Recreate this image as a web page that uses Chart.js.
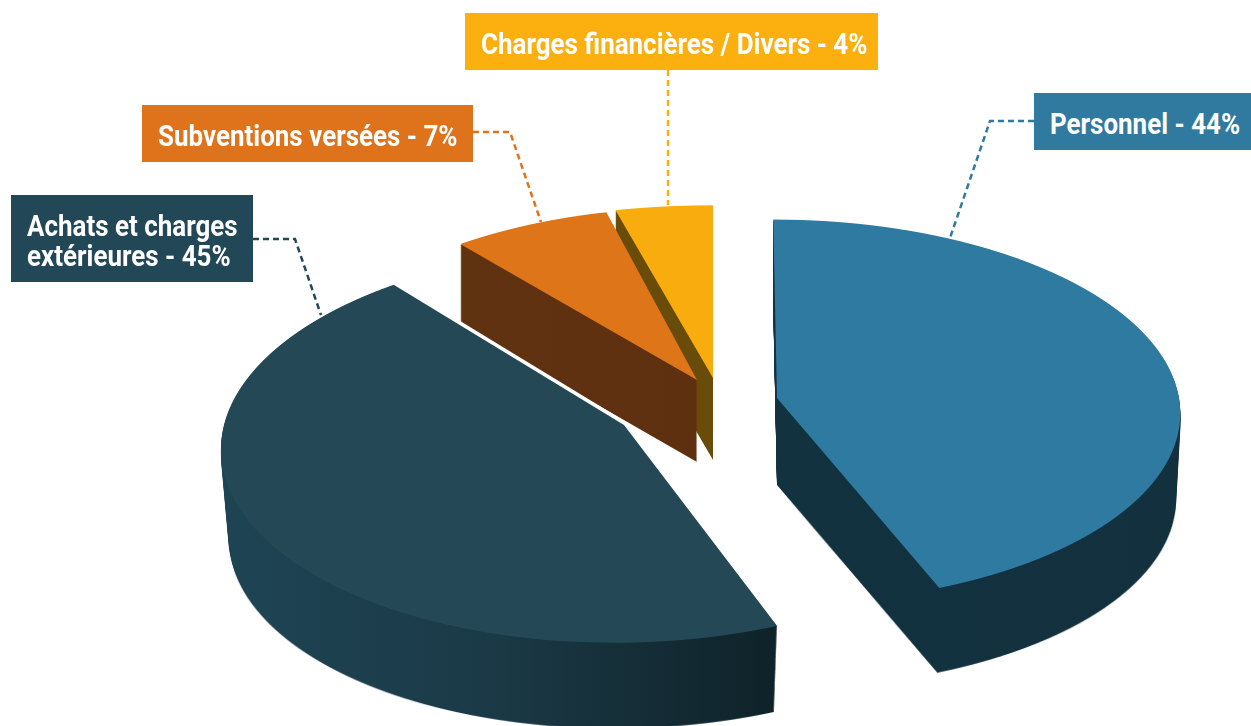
<!DOCTYPE html>
<html lang="fr">
<head>
<meta charset="utf-8">
<title>Répartition des dépenses</title>
<script src="https://cdn.jsdelivr.net/npm/chart.js@4/dist/chart.umd.min.js"></script>
<style>
  html, body { margin: 0; padding: 0; background: #fff; overflow: hidden; }
  #wrap { position: relative; width: 1251px; height: 726px; }
  #pie { position: absolute; left: 0; top: 0; }
  .tag {
    position: absolute; box-sizing: border-box; display: flex; align-items: center;
    padding: 5px 0 0 16px; color: #fff;
    font: bold 29px/30px Roboto, "Liberation Sans", sans-serif;
  }
  .tag span { display: block; transform: scaleX(0.895); transform-origin: left center; flex: none; }
</style>
</head>
<body>
<div id="wrap">
  <canvas id="pie" width="1251" height="726"></canvas>
</div>
<script>
const categories = ['Personnel', 'Achats et charges extérieures', 'Subventions versées', 'Charges financières / Divers'];
const shares = [44, 45, 7, 4];

const topColors = ['#2e7aa0', '#244856', '#df7519', '#f9ac0d'];
const tagColors = ['#2f7a9e', '#224757', '#de731c', '#fbb00f'];
// side wall colours, as [x, colour] stops
const sideStops = [
    [[778, '#12323f'], [1180, '#13303e']],
    [[225, '#1e4454'], [480, '#1b3a47'], [778, '#0f2229']],
    [[462, '#5f3210'], [697, '#5f3010']],
    [[615, '#6a4c0a'], [713, '#6a4c0a']]
];

// how each slice is projected: apex, radii, skew, perspective, wall height
const views = [
    { ax: 777, ay: 398, rx: 402, skew: 4, ry: 191, q: 0.07, depth: 87, shrink: 0.012 },
    { ax: 624, ay: 425, rx: 400, skew: -9, ry: 196, q: 0.1, depth: 90, shrink: 0.02 },
    { ax: 697, ay: 380, rx: 400, skew: 0, ry: 190, q: 0.1, depth: 82, shrink: 0 },
    { ax: 713, ay: 378, rx: 430, skew: 0, ry: 190, q: 0.1, depth: 82, shrink: 0 }
];

const tagBoxes = [
    { left: 1034, top: 93, width: 217, height: 57 },
    { left: 11, top: 195, width: 242, height: 87 },
    { left: 142, top: 105, width: 331, height: 57 },
    { left: 465, top: 13, width: 413, height: 57 }
];
const leaders = [
    [[1034, 121], [990, 121], [950, 238]],
    [[253, 239], [295, 239], [321, 315]],
    [[473, 132], [510, 132], [541, 222]],
    [[668, 70], [668, 205]]
];

const W = 1251, H = 726;
const textSquash = 0.895;

function blank() {
    const c = document.createElement('canvas');
    c.width = W;
    c.height = H;
    return c;
}

// paint the library's arc row by row so the circle gets a perspective look
function warpArc(arc, v) {
    const c = blank();
    const g = c.getContext('2d');
    const R = arc.outerRadius;
    for (let y = 0; y < H; y++) {
        const r0 = y - v.ay, r1 = y + 1 - v.ay;
        const v0 = r0 / (v.ry + v.q * r0), v1 = r1 / (v.ry + v.q * r1);
        if (v1 < -1.01 || v0 > 1.01) continue;
        const vm = (v0 + v1) / 2, dm = 1 - v.q * vm;
        const m11 = v.rx / (dm * R);
        const m21 = v.skew / (dm * R);
        const m22 = 1 / ((v1 - v0) * R);
        g.save();
        g.beginPath();
        g.rect(0, y, W, 1);
        g.clip();
        g.setTransform(m11, 0, m21, m22, v.ax - m11 * arc.x - m21 * arc.y, y - m22 * arc.y - v0 / (v1 - v0));
        arc.draw(g);
        g.restore();
    }
    return c;
}

function buildWall(mask, v, stops) {
    const c = blank();
    const g = c.getContext('2d');
    for (let t = v.depth; t >= 1; t--) {
        const s = 1 - v.shrink * t / v.depth;
        g.setTransform(s, 0, 0, s, v.ax * (1 - s), v.ay * (1 - s) + t);
        g.drawImage(mask, 0, 0);
    }
    g.setTransform(1, 0, 0, 1, 0, 0);
    const grad = g.createLinearGradient(stops[0][0], 0, stops[stops.length - 1][0], 0);
    const span = stops[stops.length - 1][0] - stops[0][0];
    stops.forEach(st => grad.addColorStop((st[0] - stops[0][0]) / span, st[1]));
    g.globalCompositeOperation = 'source-in';
    g.fillStyle = grad;
    g.fillRect(0, 0, W, H);
    return c;
}

function tint(mask, color) {
    const c = blank();
    const g = c.getContext('2d');
    g.drawImage(mask, 0, 0);
    g.globalCompositeOperation = 'source-in';
    g.fillStyle = color;
    g.fillRect(0, 0, W, H);
    return c;
}

const pie3d = {
    id: 'pie3d',
    beforeDatasetsDraw(chart) {
        const ctx = chart.ctx;
        const arcs = chart.getDatasetMeta(0).data;
        // back slices first, the big dark one last
        [0, 3, 2, 1].forEach(i => {
            const mask = warpArc(arcs[i], views[i]);
            ctx.drawImage(buildWall(mask, views[i], sideStops[i]), 0, 0);
            if (i === 1) {
                // thin white edge where it passes in front of the orange wall
                ctx.drawImage(tint(mask, '#fff'), 2, -3);
            }
            ctx.drawImage(mask, 0, 0);
        });
        return false;
    },
    afterDraw(chart) {
        const ctx = chart.ctx;
        ctx.save();
        ctx.lineWidth = 2.5;
        ctx.setLineDash([6, 4]);
        leaders.forEach((pts, i) => {
            ctx.strokeStyle = tagColors[i];
            ctx.beginPath();
            pts.forEach((p, n) => n ? ctx.lineTo(p[0], p[1]) : ctx.moveTo(p[0], p[1]));
            ctx.stroke();
        });
        ctx.restore();
    }
};

new Chart(document.getElementById('pie').getContext('2d'), {
    type: 'pie',
    data: {
        labels: categories,
        datasets: [{
            data: shares,
            backgroundColor: topColors,
            borderWidth: 0
        }]
    },
    options: {
        responsive: false,
        animation: false,
        plugins: { legend: { display: false }, tooltip: { enabled: false } }
    },
    plugins: [pie3d]
});

categories.forEach((name, i) => {
    const tag = document.createElement('div');
    const text = document.createElement('span');
    const box = tagBoxes[i];
    tag.className = 'tag';
    text.textContent = name + ' - ' + shares[i] + '%';
    text.style.width = (box.width - 16) / textSquash + 'px';
    tag.style.left = box.left + 'px';
    tag.style.top = box.top + 'px';
    tag.style.width = box.width + 'px';
    tag.style.height = box.height + 'px';
    tag.style.background = tagColors[i];
    tag.appendChild(text);
    document.getElementById('wrap').appendChild(tag);
});
</script>
</body>
</html>
